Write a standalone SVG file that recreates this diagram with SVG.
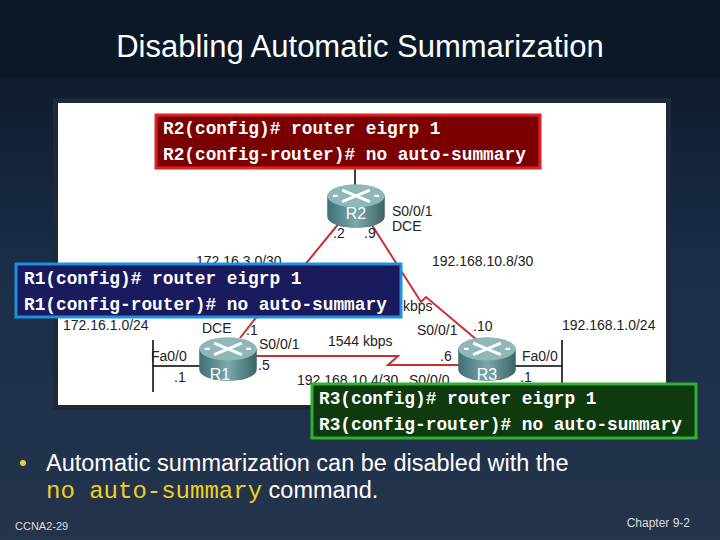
<svg xmlns="http://www.w3.org/2000/svg" width="720" height="540" viewBox="0 0 720 540">
<defs>
<linearGradient id="bg" x1="0" y1="0" x2="0" y2="1"><stop offset="0" stop-color="#0a1422"/><stop offset="0.5" stop-color="#1a2e4a"/><stop offset="1" stop-color="#24344c"/></linearGradient>
<linearGradient id="rt" x1="0" y1="0" x2="1" y2="0"><stop offset="0" stop-color="#3f6e74"/><stop offset="0.5" stop-color="#7aa8ac"/><stop offset="1" stop-color="#3b6468"/></linearGradient>
<g id="router"><path d="M-25,-8 v18 a25,10 0 0 0 50,0 v-18 z" fill="url(#rt)"/><ellipse cx="0" cy="-8" rx="25" ry="10" fill="#8fb7ba"/><path d="M-12,-13 L12,-3 M12,-13 L-12,-3" stroke="#fff" stroke-width="2.5"/><path d="M-16,-8 h-4 M16,-8 h4" stroke="#fff" stroke-width="2"/></g>
<style>
.l{font-family:"Liberation Sans",Arial,sans-serif;font-size:14px;fill:#222}
.m{font-family:"Liberation Mono","Courier New",monospace;font-size:17.8px;font-weight:bold;fill:#fff}
.rl{font-family:"Liberation Sans",Arial,sans-serif;font-size:16px;fill:#fff;text-anchor:middle}
</style>
</defs>
<rect width="720" height="540" fill="url(#bg)"/>
<rect width="720" height="78" fill="#0c1828"/>
<text x="360" y="57" text-anchor="middle" font-family="Liberation Sans,Arial,sans-serif" font-size="31" fill="#fff">Disabling Automatic Summarization</text>
<rect x="53" y="98" width="618" height="312" fill="#1c2a3a"/>
<rect x="58" y="103" width="608" height="302" fill="#fff"/>
<g id="connectors" fill="none">
<path d="M340,222 L290,283 L285,281 L240,338" stroke="#c83030" stroke-width="2"/>
<path d="M370,222 L421,302 L426,297 L477,340" stroke="#c83030" stroke-width="2"/>
<path d="M255,356 L398,356 L388,365 L462,365" stroke="#c83030" stroke-width="2"/>
<path d="M355,168 V188" stroke="#000" stroke-width="1.5"/>
<path d="M153,340 V392 M153,366 H205" stroke="#000" stroke-width="1.5"/>
<path d="M562,340 V392 M562,366 H510" stroke="#000" stroke-width="1.5"/>
</g>
<g id="R2"><use href="#router" transform="translate(356,205) scale(1.15)"/><text class="rl" x="356" y="219">R2</text></g>
<g id="R1"><use href="#router" transform="translate(228,358) scale(1.15)"/><text class="rl" x="220" y="380">R1</text></g>
<g id="R3"><use href="#router" transform="translate(487,358) scale(1.15)"/><text class="rl" x="487" y="380">R3</text></g>
<g id="labels">
<text class="l" x="392" y="216">S0/0/1</text><text class="l" x="392" y="231">DCE</text>
<text class="l" x="333" y="238">.2</text><text class="l" x="364" y="238">.9</text>
<text class="l" x="196" y="266">172.16.3.0/30</text>
<text class="l" x="432" y="266">192.168.10.8/30</text>
<text class="l" x="403" y="311">kbps</text>
<text class="l" x="63" y="330">172.16.1.0/24</text>
<text class="l" x="202" y="333">DCE</text><text class="l" x="246" y="335">.1</text>
<text class="l" x="259" y="349">S0/0/1</text>
<text class="l" x="328" y="346">1544 kbps</text>
<text class="l" x="417" y="335">S0/0/1</text><text class="l" x="473" y="331">.10</text>
<text class="l" x="562" y="330">192.168.1.0/24</text>
<text class="l" x="151" y="361">Fa0/0</text><text class="l" x="258" y="370">.5</text>
<text class="l" x="174" y="382">.1</text>
<text class="l" x="440" y="361">.6</text><text class="l" x="522" y="361">Fa0/0</text>
<text class="l" x="297" y="385">192.168.10.4/30</text><text class="l" x="409" y="385">S0/0/0</text>
<text class="l" x="520" y="382">.1</text>
</g>
<g id="cmdR2"><rect x="156" y="115" width="384" height="53" fill="#7a0000" stroke="#e02020" stroke-width="3"/>
<text class="m" x="163" y="134">R2(config)# router eigrp 1</text><text class="m" x="163" y="160">R2(config-router)# no auto-summary</text></g>
<g id="cmdR1"><rect x="16" y="264" width="385" height="53" fill="#1a1a5e" stroke="#1e90e0" stroke-width="3"/>
<text class="m" x="24" y="284">R1(config)# router eigrp 1</text><text class="m" x="24" y="310">R1(config-router)# no auto-summary</text></g>
<g id="cmdR3"><rect x="312" y="384" width="384" height="54" fill="#0e3a0e" stroke="#30b030" stroke-width="3"/>
<text class="m" x="319" y="404">R3(config)# router eigrp 1</text><text class="m" x="319" y="430">R3(config-router)# no auto-summary</text></g>
<circle cx="23" cy="463" r="3" fill="#e8d040"/>
<text x="46" y="471" font-family="Liberation Sans,Arial,sans-serif" font-size="23.5" fill="#fff">Automatic summarization can be disabled with the</text>
<text x="46" y="498" font-family="Liberation Sans,Arial,sans-serif" font-size="23.5" fill="#fff"><tspan font-family="Liberation Mono,Courier New,monospace" font-size="24" fill="#f0d020">no auto-summary</tspan> command.</text>
<text x="15" y="530" font-family="Liberation Sans,Arial,sans-serif" font-size="11" fill="#ddd">CCNA2-29</text>
<text x="690" y="527" text-anchor="end" font-family="Liberation Sans,Arial,sans-serif" font-size="12" fill="#ddd">Chapter 9-2</text>
</svg>
